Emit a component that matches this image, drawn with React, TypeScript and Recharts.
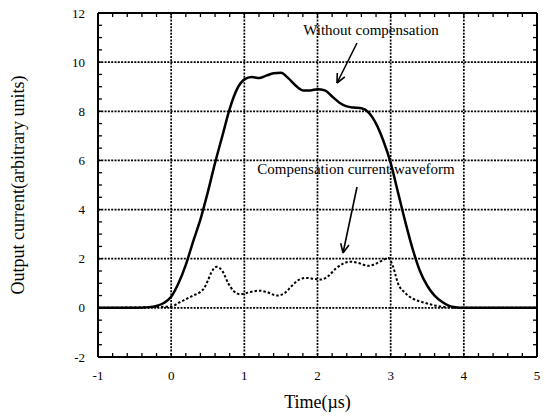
import { LineChart, Line, XAxis, YAxis, CartesianGrid, ReferenceLine, ReferenceDot, Label } from 'recharts';

// waveform without compensation
const timeSolid = [-1, -0.5, -0.3, -0.2, -0.1, 0, 0.1, 0.2, 0.3, 0.4, 0.5, 0.6, 0.7, 0.8, 0.9, 1.0, 1.1, 1.2, 1.3, 1.4, 1.5, 1.6, 1.7, 1.8, 1.9, 2.0, 2.1, 2.2, 2.3, 2.4, 2.5, 2.6, 2.7, 2.8, 2.9, 3.0, 3.1, 3.2, 3.3, 3.4, 3.5, 3.6, 3.7, 3.8, 3.9, 4.0, 5];
const currentSolid = [0, 0, 0.03, 0.08, 0.2, 0.45, 1.0, 1.75, 2.7, 3.6, 4.7, 5.9, 7.0, 8.1, 8.9, 9.3, 9.4, 9.35, 9.45, 9.55, 9.57, 9.35, 9.05, 8.85, 8.85, 8.9, 8.85, 8.6, 8.35, 8.2, 8.15, 8.12, 7.95, 7.5, 6.8, 5.9, 4.7, 3.5, 2.4, 1.5, 0.9, 0.5, 0.25, 0.08, 0.02, 0, 0];

// compensation current waveform
const timeComp = [-1, 0, 0.1, 0.2, 0.3, 0.4, 0.45, 0.5, 0.55, 0.62, 0.7, 0.78, 0.85, 0.95, 1.05, 1.2, 1.3, 1.45, 1.55, 1.65, 1.75, 1.85, 1.95, 2.05, 2.15, 2.25, 2.35, 2.45, 2.55, 2.7, 2.8, 2.9, 2.97, 3.03, 3.1, 3.2, 3.3, 3.45, 3.6, 3.75, 3.9, 5];
const currentComp = [0, 0.05, 0.2, 0.35, 0.5, 0.65, 0.8, 1.1, 1.45, 1.67, 1.5, 1.0, 0.7, 0.55, 0.62, 0.7, 0.65, 0.5, 0.6, 0.9, 1.15, 1.22, 1.18, 1.15, 1.3, 1.6, 1.8, 1.88, 1.83, 1.71, 1.8, 1.95, 2.03, 1.7, 1.0, 0.6, 0.38, 0.22, 0.1, 0.03, 0, 0];

const xTicks = [-1, 0, 1, 2, 3, 4, 5];
const yTicks = [-2, 0, 2, 4, 6, 8, 10, 12];
const xMinor = [-1, -0.8, -0.6, -0.4, -0.2, 0, 0.2, 0.4, 0.6, 0.8, 1, 1.2, 1.4, 1.6, 1.8, 2, 2.2, 2.4, 2.6, 2.8, 3, 3.2, 3.4, 3.6, 3.8, 4, 4.2, 4.4, 4.6, 4.8, 5];
const yMinor = [-2, -1.5, -1, -0.5, 0, 0.5, 1, 1.5, 2, 2.5, 3, 3.5, 4, 4.5, 5, 5.5, 6, 6.5, 7, 7.5, 8, 8.5, 9, 9.5, 10, 10.5, 11, 11.5, 12];

const solidData = timeSolid.map((t, i) => ({ t, v: currentSolid[i] }));
const compData = timeComp.map((t, i) => ({ t, v: currentComp[i] }));

const W = 545;
const H = 418;
const PLOT = { left: 98, right: 537, top: 13, bottom: 357 };
const X0 = -1, X1 = 5, Y0 = -2, Y1 = 12;
const FONT = 'Liberation Serif';

const pxToX = (px: number) => X0 + ((px - PLOT.left) / (PLOT.right - PLOT.left)) * (X1 - X0);
const pxToY = (py: number) => Y1 - ((py - PLOT.top) / (PLOT.bottom - PLOT.top)) * (Y1 - Y0);

// arrow shaft + two head strokes, in pixel space then converted
function arrowSegments(x1: number, y1: number, x2: number, y2: number) {
  const dx = x1 - x2, dy = y1 - y2;
  const len = Math.hypot(dx, dy);
  const bx = dx / len, by = dy / len;
  const a = (25 * Math.PI) / 180;
  const hl = 10;
  const h1 = [x2 + hl * (bx * Math.cos(a) - by * Math.sin(a)), y2 + hl * (bx * Math.sin(a) + by * Math.cos(a))];
  const h2 = [x2 + hl * (bx * Math.cos(a) + by * Math.sin(a)), y2 + hl * (-bx * Math.sin(a) + by * Math.cos(a))];
  return [
    [[x1, y1], [x2, y2]],
    [[h1[0], h1[1]], [x2, y2]],
    [[h2[0], h2[1]], [x2, y2]],
  ].map((s) => s.map(([px, py]) => ({ x: pxToX(px), y: pxToY(py) })));
}

const arrows = [...arrowSegments(357, 43, 337, 83), ...arrowSegments(357, 187, 343, 253)];

const notes = [
  { text: 'Without compensation', px: 371, py: 32 },
  { text: 'Compensation current waveform', px: 356, py: 171 },
];

// inward tick length (4px) in data units
const tickY = (4 * (Y1 - Y0)) / (PLOT.bottom - PLOT.top);
const tickX = (4 * (X1 - X0)) / (PLOT.right - PLOT.left);

const frame = { stroke: '#000', strokeWidth: 2 };
const tickStroke = { stroke: '#000', strokeWidth: 1.3 };
const tickFont = { fill: '#000', fontSize: 13, fontFamily: FONT };

export default function App() {
  return (
    <div style={{ position: 'absolute', left: 0, top: 0, background: '#fff' }}>
      <LineChart width={W} height={H} margin={{ top: PLOT.top, right: W - PLOT.right, bottom: 0, left: 0 }}>
        <XAxis xAxisId="g" dataKey="t" type="number" domain={[X0, X1]} ticks={xTicks} hide allowDataOverflow />
        <YAxis yAxisId="g" type="number" domain={[Y0, Y1]} ticks={yTicks} hide allowDataOverflow />
        <CartesianGrid xAxisId="g" yAxisId="g" stroke="#000" strokeWidth={1.7} strokeDasharray="2 1.3" />
        <XAxis
          dataKey="t"
          type="number"
          domain={[X0, X1]}
          ticks={xMinor}
          interval={0}
          height={H - PLOT.bottom}
          axisLine={frame}
          tickLine={tickStroke}
          tickSize={-4}
          tickMargin={18}
          tickFormatter={(v: number) => (xTicks.includes(v) ? String(v) : '')}
          tick={tickFont}
          allowDataOverflow
        >
          <Label value="Time(µs)" position="insideBottom" offset={10} fill="#000" fontSize={18} fontFamily={FONT} />
        </XAxis>
        <YAxis
          type="number"
          domain={[Y0, Y1]}
          ticks={yMinor}
          interval={0}
          width={PLOT.left}
          axisLine={frame}
          tickLine={tickStroke}
          tickSize={-4}
          tickMargin={17}
          tickFormatter={(v: number) => (yTicks.includes(v) ? String(v) : '')}
          tick={tickFont}
          allowDataOverflow
        >
          <Label
            content={() => (
              <text x={20} y={185} transform="rotate(-90 20 185)" textAnchor="middle" dominantBaseline="middle" fill="#000" fontSize={18} fontFamily={FONT}>
                Output current(arbitrary units)
              </text>
            )}
          />
        </YAxis>
        {/* top and right edges of the frame, with inward minor ticks */}
        <ReferenceLine y={Y1} stroke="#000" strokeWidth={2} ifOverflow="visible" />
        <ReferenceLine x={X1} stroke="#000" strokeWidth={2} ifOverflow="visible" />
        {xMinor.map((x) => (
          <ReferenceLine key={`tt${x}`} segment={[{ x, y: Y1 }, { x, y: Y1 - tickY }]} stroke="#000" strokeWidth={1.3} ifOverflow="visible" />
        ))}
        {yMinor.map((y) => (
          <ReferenceLine key={`rt${y}`} segment={[{ x: X1, y }, { x: X1 - tickX, y }]} stroke="#000" strokeWidth={1.3} ifOverflow="visible" />
        ))}
        <Line data={compData} dataKey="v" type="monotone" stroke="#000" strokeWidth={2} strokeDasharray="2.5 2" dot={false} isAnimationActive={false} />
        <Line data={solidData} dataKey="v" type="monotone" stroke="#000" strokeWidth={2.5} dot={false} isAnimationActive={false} />
        {arrows.map((seg, i) => (
          <ReferenceLine key={`a${i}`} segment={seg} stroke="#000" strokeWidth={1.6} ifOverflow="visible" />
        ))}
        {notes.map((n) => (
          <ReferenceDot
            key={n.text}
            x={pxToX(n.px)}
            y={pxToY(n.py)}
            r={0}
            ifOverflow="visible"
            shape={(p: any) => (
              <text x={p.cx} y={p.cy} textAnchor="middle" dominantBaseline="middle" fill="#000" fontSize={15} fontFamily={FONT}>
                {n.text}
              </text>
            )}
          />
        ))}
      </LineChart>
    </div>
  );
}
